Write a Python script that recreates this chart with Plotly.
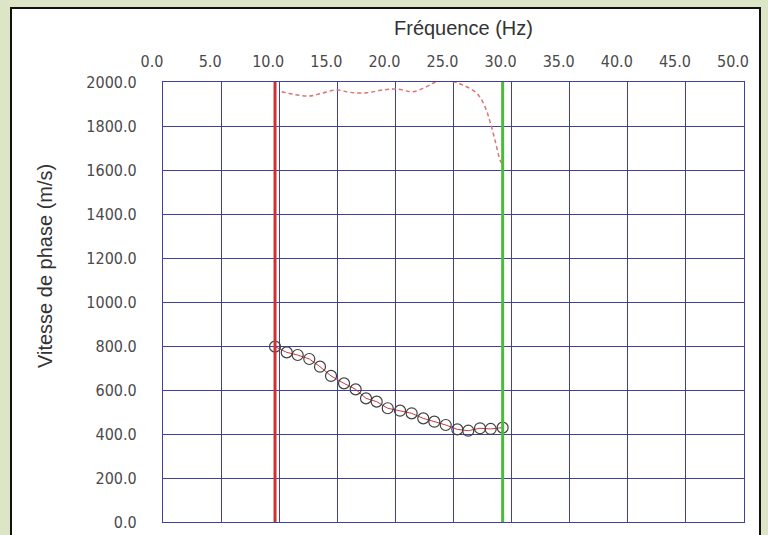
import plotly.graph_objects as go

# Measured dispersion curve (circles)
freq_pts = [9.64, 10.65, 11.59, 12.59, 13.51, 14.46, 15.58, 16.58, 17.47, 18.39, 19.34,
            20.4, 21.4, 22.4, 23.35, 24.33, 25.33, 26.27, 27.28, 28.2, 29.23]
vel_pts = [797, 771, 759, 741, 706, 664, 630, 603, 562, 547, 517,
           506, 494, 471, 456, 441, 421, 415, 426, 423, 429]

# Dashed red curve near the top
freq_dash = [10.21, 12.48, 13.66, 14.95, 16.09, 17.53, 18.93, 20.11, 21.51, 22.69,
             23.55, 24.96, 25.82, 27.0, 27.71, 28.14, 28.57, 29.0, 29.15]
vel_dash = [1956, 1936, 1949, 1964, 1953, 1951, 1964, 1968, 1956, 1979,
            2001, 2001, 1986, 1949, 1888, 1820, 1736, 1645, 1630]

# Frequency bounds (vertical lines)
f_min = 9.64
f_max = 29.23

x_ticks = [0, 5, 10, 15, 20, 25, 30, 35, 40, 45, 50]
y_ticks = [0, 200, 400, 600, 800, 1000, 1200, 1400, 1600, 1800, 2000]

grid = "#40409c"
tick_font = dict(family="Liberation Sans Narrow, DejaVu Sans Condensed, Arial", size=16, color="#4a4a4a")
title_font = dict(family="Liberation Sans, Arial", size=20, color="#333333")

fig = go.Figure()
fig.add_trace(go.Scatter(x=freq_dash, y=vel_dash, mode="lines",
                         line=dict(color="#e07272", width=1.5, dash="4px,3px", shape="spline"),
                         showlegend=False))
fig.add_trace(go.Scatter(x=freq_pts, y=vel_pts, mode="lines+markers",
                         line=dict(color="#c83a3a", width=1),
                         marker=dict(symbol="circle-open", size=11, color="#404040", line=dict(width=1.2)),
                         showlegend=False))

PW, PH = 581, 440
shapes = [
    dict(type="rect", xref="paper", yref="paper", x0=(11-163)/PW, x1=(760-163)/PW,
         y0=-30/PH, y1=(522-8)/PH, fillcolor="white", line=dict(color="#111111", width=2), layer="below"),
    dict(type="line", xref="x", yref="paper", x0=f_min, x1=f_min, y0=0, y1=1,
         line=dict(color="#d03030", width=3)),
    dict(type="line", xref="x", yref="paper", x0=f_max, x1=f_max, y0=0, y1=1,
         line=dict(color="#4cbb3c", width=3)),
]

annotations = [
    dict(text="Fréquence (Hz)", xref="paper", yref="paper", x=(463-163)/PW, y=(522-28)/PH,
         xanchor="center", yanchor="middle", showarrow=False, font=title_font),
    dict(text="Vitesse de phase (m/s)", xref="paper", yref="paper", x=(45-163)/PW, y=(522-266)/PH,
         xanchor="center", yanchor="middle", textangle=-90, showarrow=False, font=title_font),
]

fig.update_layout(
    width=768, height=535,
    margin=dict(l=163, r=24, t=82, b=13),
    paper_bgcolor="#dce6c6",
    plot_bgcolor="white",
    shapes=shapes,
    annotations=annotations,
    xaxis=dict(side="top", range=[0, 50], tickvals=x_ticks, tickformat=".1f",
               showgrid=True, gridcolor=grid, gridwidth=1.2, showline=True, linecolor=grid,
               linewidth=1.2, mirror=True, zeroline=False, ticks="", tickfont=tick_font,
               ticklabelshift=-11, ticklabelstandoff=8, automargin=False),
    yaxis=dict(range=[0, 2000], tickvals=y_ticks, tickformat=".1f",
               showgrid=True, gridcolor=grid, gridwidth=1.2, showline=True, linecolor=grid,
               linewidth=1.2, mirror=True, zeroline=False, ticks="", tickfont=tick_font,
               ticklabelstandoff=22, automargin=False),
)

fig.write_html("out.html", config={"displayModeBar": False},
               post_script="document.body.style.margin='0';document.body.style.overflow='hidden';document.body.style.background='#dce6c6';")
